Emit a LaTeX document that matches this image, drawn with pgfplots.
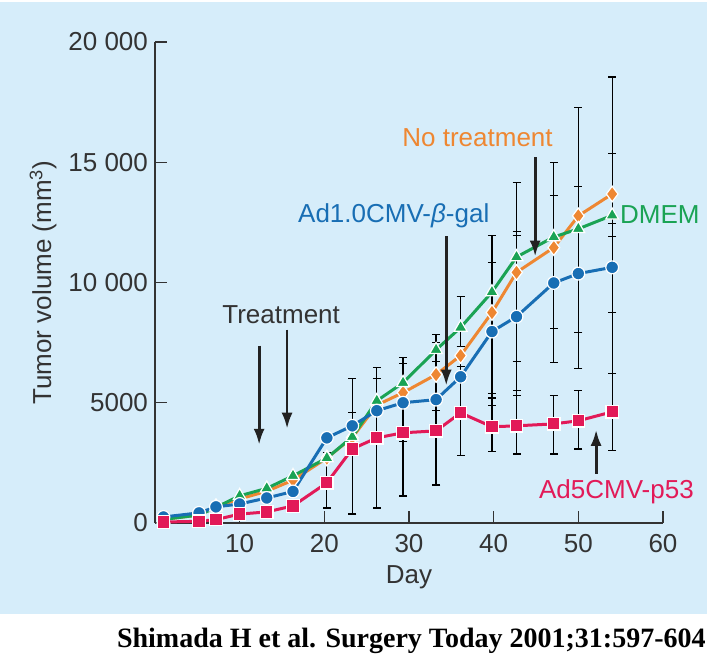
\documentclass[border=0pt]{standalone}
\usepackage{fontspec}
\setmainfont{Liberation Sans}
\newfontfamily\citefont{Liberation Serif}
\usepackage{pgfplots}
\pgfplotsset{compat=1.18}
\usetikzlibrary{arrows.meta}
\definecolor{bgblue}{RGB}{214,237,250}
\definecolor{textgray}{RGB}{51,51,51}
\definecolor{blueC}{RGB}{24,110,180}
\definecolor{orangeC}{RGB}{238,135,50}
\definecolor{greenC}{RGB}{26,163,84}
\definecolor{redC}{RGB}{226,26,88}
\definecolor{arrowC}{RGB}{34,34,34}
\begin{document}
\begin{tikzpicture}[font=\fontsize{13}{15}\selectfont]
\useasboundingbox (0,0) rectangle (354.5pt,328pt);
\fill[bgblue] (0,21pt) rectangle (353.5pt,327pt);
\node[anchor=base east, inner sep=0pt, font=\citefont\bfseries\fontsize{14}{16}\selectfont] at (353pt,4pt) {Shimada H et al. Surgery Today 2001;31:597-604};
\begin{axis}[
  at={(77.5pt,66.5pt)}, anchor=south west,
  scale only axis, width=254pt, height=240.5pt,
  xmin=0, xmax=60, ymin=0, ymax=20000,
  axis x line*=bottom, axis y line*=left,
  axis line style={textgray, line width=1.2pt},
  xtick={10,20,30,40,50,60},
  ytick={0,5000,10000,15000,20000},
  tick align=inside, major tick length=6pt,
  tick style={textgray, line width=0.7pt},
  tick label style={text=textgray},
  xticklabel style={yshift=-2pt},
  /pgf/number format/.cd, 1000 sep={\ }, min exponent for 1000 sep=4, assume math mode=true, /pgfplots/.cd,
  scaled y ticks=false,
  xlabel={Day}, ylabel={Tumor volume (mm\textsuperscript{3})},
  xlabel style={at={(axis description cs:0.5,-0.112)}, anchor=center, text=textgray},
  ylabel style={at={(axis description cs:-0.2205,0.5)}, anchor=center, text=textgray},
  clip=false,
]
% error bars
\addplot[draw=none, mark=none, forget plot,
  error bars/.cd, y dir=both, y explicit,
  error bar style={draw=black, solid, line width=0.6pt},
  error mark options={draw=black, solid, rotate=90, mark size=2pt, line width=0.6pt}]
table[x=x, y=y, y error=e] {
x y e
20.3 1770 1150
23.3 3185 2815
23.3 4040 540
26.2 3540 2920
26.2 4670 1330
29.3 4000 2880
29.3 5015 1615
33.2 4715 3135
33.2 3125 1545
33.2 6315 1185
33.2 5265 1435
36.1 6105 3315
36.1 4645 1855
36.1 6715 635
39.8 7460 4500
39.8 7850 2980
39.8 4600 600
39.8 4180 1220
42.7 8520 5650
42.7 8815 3315
42.7 8625 3335
42.7 4800 1930
47.1 10835 4165
47.1 10855 2775
47.1 4080 1210
50 11855 5435
50 10960 3040
50 4290 1210
54 10770 7770
54 10790 4580
54 10605 1855
54 12760 840
};
% No treatment
\addplot[orangeC, line width=1.5pt, mark=diamond*, mark size=3.9pt, mark options={fill=orangeC, draw=white, line width=0.6pt}]
table {
1 150
5.2 330
7.2 680
10 1000
13.2 1320
16.3 1780
20.3 2700
23.3 3550
26.2 4900
29.3 5420
33.2 6170
36.1 6960
39.8 8750
42.7 10420
47.1 11450
50 12770
54 13680
};
% DMEM
\addplot[greenC, line width=1.5pt, mark=triangle*, mark size=3.7pt, mark options={fill=greenC, draw=white, line width=0.6pt}]
table {
1 150
5.2 330
7.2 650
10 1130
13.2 1440
16.3 1960
20.3 2700
23.3 3580
26.2 5080
29.3 5830
33.2 7200
36.1 8130
39.8 9600
42.7 11060
47.1 11890
50 12230
54 12790
};
% Ad1.0CMV-beta-gal
\addplot[blueC, line width=1.5pt, mark=*, mark size=3.2pt, mark options={fill=blueC, draw=white, line width=0.6pt}]
table {
1 250
5.2 420
7.2 670
10 790
13.2 1040
16.3 1310
20.3 3540
23.3 4040
26.2 4670
29.3 5000
33.2 5130
36.1 6080
39.8 7960
42.7 8580
47.1 9980
50 10370
54 10630
};
% Ad5CMV-p53
\addplot[redC, line width=1.5pt, mark=square*, mark size=3.1pt, mark options={fill=redC, draw=white, line width=0.6pt}]
table {
1 40
5.2 70
7.2 140
10 370
13.2 460
16.3 710
20.3 1670
23.3 3080
26.2 3540
29.3 3750
33.2 3830
36.1 4580
39.8 4000
42.7 4040
47.1 4120
50 4250
54 4620
};
\tikzset{arr/.style={draw=arrowC, line width=1.4pt, -{Latex[length=8pt, width=5.5pt]}}}
\node[text=textgray] at (axis cs:14.9,8670) {Treatment};
\draw[arr] (axis cs:12.3,7375) -- (axis cs:12.3,3250);
\draw[arr] (axis cs:15.6,8040) -- (axis cs:15.6,3920);
\node[text=blueC] at (axis cs:28.2,12790) {Ad1.0CMV-\textit{β}-gal};
\draw[arr] (axis cs:34.4,11920) -- (axis cs:34.4,5710);
\node[text=orangeC] at (axis cs:38.1,16040) {No treatment};
\draw[arr] (axis cs:44.9,15210) -- (axis cs:44.9,11080);
\node[text=greenC, anchor=west, inner sep=0pt] at (axis cs:54.9,12830) {DMEM};
\node[text=redC] at (axis cs:54.5,1290) {Ad5CMV-p53};
\draw[arr] (axis cs:52.1,2040) -- (axis cs:52.1,3875);
\end{axis}
\end{tikzpicture}
\end{document}
